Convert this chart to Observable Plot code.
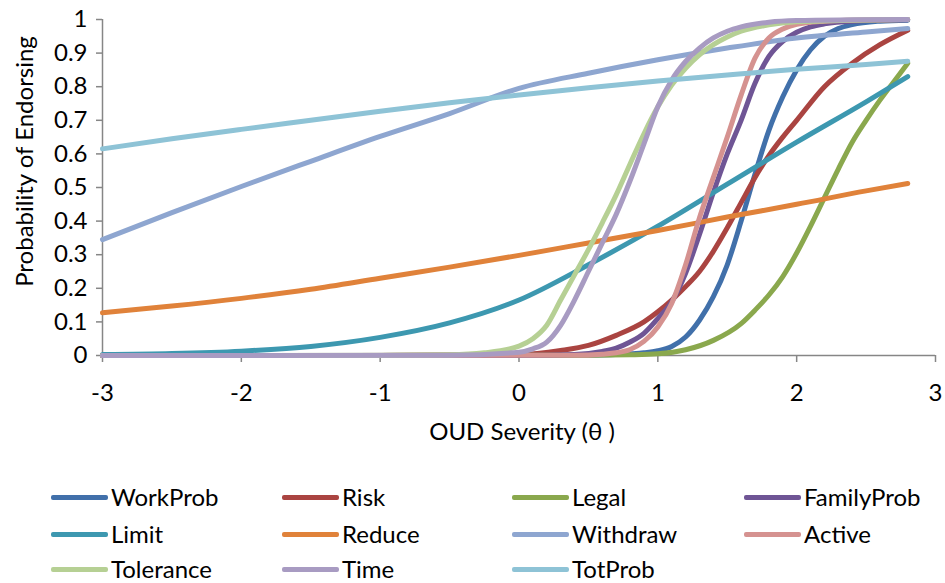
<!DOCTYPE html>
<html><head><meta charset="utf-8">
<script src="https://cdn.jsdelivr.net/npm/d3@7"></script>
<script src="https://cdn.jsdelivr.net/npm/@observablehq/plot@0.6"></script>
<style>
body{margin:0;background:#fff;font-family:Lato,sans-serif;}
#wrap{position:relative;width:945px;height:583px;overflow:hidden;background:#fff}
.item{position:absolute;display:flex;align-items:center;font-size:24px;color:#000;white-space:nowrap;line-height:1}
.sw{width:57px;height:5px;margin-right:3px;border-radius:2px}
</style></head><body><div id="wrap"></div>
<script>
const seriesNames = ["WorkProb","Risk","Legal","FamilyProb","Limit","Reduce","Withdraw","Active","Tolerance","Time","TotProb"];
const seriesColors = ["#4170AA","#AA4441","#8AA84D","#6F5595","#3D98B0","#E0823A","#8EA6D0","#D59290","#B6D094","#A89BC2","#8EC3D6"];

const thetaWorkProb = [-3,0,0.5,0.8,0.9,1.0,1.1,1.2,1.3,1.4,1.5,1.6,1.7,1.8,1.9,2.0,2.1,2.2,2.3,2.4,2.6,2.8];
const pWorkProb     = [0,0.0002,0.001,0.005,0.008,0.014,0.027,0.055,0.105,0.175,0.27,0.40,0.54,0.67,0.77,0.85,0.91,0.95,0.973,0.985,0.995,0.998];

const thetaRisk = [-3,-1,0,0.3,0.5,0.7,0.9,1.0,1.1,1.2,1.3,1.4,1.5,1.6,1.7,1.8,1.9,2.0,2.2,2.4,2.6,2.8];
const pRisk     = [0,0.0003,0.003,0.015,0.03,0.06,0.10,0.13,0.165,0.205,0.25,0.31,0.38,0.455,0.53,0.595,0.65,0.70,0.80,0.87,0.925,0.968];

const thetaLegal = [-3,0.5,0.8,1.0,1.2,1.4,1.6,1.7,1.8,1.9,2.0,2.1,2.2,2.3,2.4,2.5,2.6,2.7,2.8];
const pLegal     = [0,0.0005,0.002,0.005,0.017,0.045,0.095,0.135,0.18,0.235,0.305,0.385,0.47,0.555,0.635,0.70,0.76,0.815,0.87];

const thetaFamilyProb = [-3,0,0.4,0.6,0.7,0.8,0.9,1.0,1.1,1.2,1.3,1.4,1.5,1.6,1.7,1.8,1.9,2.0,2.1,2.2,2.4,2.8];
const pFamilyProb     = [0,0.0003,0.003,0.012,0.022,0.04,0.066,0.11,0.16,0.245,0.36,0.485,0.60,0.70,0.81,0.89,0.935,0.962,0.978,0.987,0.995,0.999];

const thetaLimit = [-3,-2.5,-2,-1.5,-1,-0.5,0,0.5,1,1.5,2,2.5,2.8];
const pLimit     = [0.003,0.006,0.013,0.027,0.054,0.097,0.165,0.27,0.385,0.51,0.635,0.755,0.83];

const thetaReduce = [-3,-2.5,-2,-1.5,-1,-0.5,0,0.5,1,1.5,2,2.5,2.8];
const pReduce     = [0.127,0.147,0.170,0.197,0.23,0.263,0.298,0.335,0.372,0.412,0.45,0.49,0.512];

const thetaWithdraw = [-3,-2.5,-2,-1.5,-1,-0.5,0,0.5,1,1.5,2,2.5,2.8];
const pWithdraw     = [0.345,0.425,0.503,0.578,0.652,0.72,0.795,0.84,0.88,0.915,0.945,0.963,0.973];

const thetaActive = [-3,0.4,0.6,0.7,0.8,0.9,1.0,1.1,1.2,1.3,1.4,1.5,1.6,1.7,1.8,1.9,2.0,2.2,2.4,2.8];
const pActive     = [0,0.0005,0.004,0.008,0.018,0.042,0.085,0.155,0.27,0.41,0.53,0.65,0.775,0.885,0.945,0.972,0.986,0.995,0.998,1.0];

const thetaTolerance = [-3,-1,-0.5,-0.25,0,0.1,0.2,0.3,0.4,0.5,0.6,0.7,0.8,0.9,1.0,1.1,1.2,1.3,1.4,1.5,1.6,1.8,2.0,2.4,2.8];
const pTolerance     = [0,0.0003,0.002,0.008,0.028,0.05,0.09,0.165,0.24,0.315,0.395,0.478,0.57,0.66,0.74,0.805,0.855,0.895,0.925,0.948,0.965,0.984,0.993,0.998,1.0];

const thetaTime = [-3,-0.5,0,0.1,0.2,0.3,0.4,0.5,0.6,0.7,0.8,0.9,1.0,1.1,1.2,1.3,1.4,1.5,1.6,1.8,2.0,2.4,2.8];
const pTime     = [0,0.0005,0.01,0.02,0.04,0.09,0.165,0.25,0.335,0.42,0.52,0.63,0.74,0.82,0.875,0.915,0.945,0.965,0.978,0.992,0.997,0.999,1.0];

const thetaTotProb = [-3,-2.5,-2,-1.5,-1,-0.5,0,0.5,1,1.5,2,2.5,2.8];
const pTotProb     = [0.615,0.645,0.673,0.70,0.727,0.752,0.775,0.797,0.817,0.835,0.852,0.866,0.876];

const xTicks = [-3,-2,-1,0,1,2,3];
const xTickLabels = ["-3","-2","-1","0","1","2","3"];
const yTicks = [0,0.1,0.2,0.3,0.4,0.5,0.6,0.7,0.8,0.9,1];
const yTickLabels = ["0","0.1","0.2","0.3","0.4","0.5","0.6","0.7","0.8","0.9","1"];
const xTitle = "OUD Severity (θ )";
const yTitle = "Probability of Endorsing";

const seriesData = {
  WorkProb:[thetaWorkProb,pWorkProb], Risk:[thetaRisk,pRisk], Legal:[thetaLegal,pLegal],
  FamilyProb:[thetaFamilyProb,pFamilyProb], Limit:[thetaLimit,pLimit], Reduce:[thetaReduce,pReduce],
  Withdraw:[thetaWithdraw,pWithdraw], Active:[thetaActive,pActive], Tolerance:[thetaTolerance,pTolerance],
  Time:[thetaTime,pTime], TotProb:[thetaTotProb,pTotProb]
};
const rows = seriesNames.flatMap(name => seriesData[name][0].map((t,i) => ({series:name, theta:t, p:seriesData[name][1][i]})));

const axisGray = "#868686";
const chart = Plot.plot({
  width:945, height:583,
  marginTop:19, marginLeft:102, marginRight:10, marginBottom:228,
  style:{fontFamily:"Lato, sans-serif", fontSize:"24px", color:"#000", background:"white", overflow:"visible"},
  x:{domain:[-3,3]},
  y:{domain:[0,1]},
  color:{domain:seriesNames, range:seriesColors},
  marks:[
    Plot.ruleX([-3], {stroke:axisGray, strokeWidth:1.5}),
    Plot.ruleY([0], {stroke:axisGray, strokeWidth:1.5}),
    Plot.axisY({ticks:yTicks, tickFormat:d => yTickLabels[yTicks.indexOf(d)], tickSize:6, tickPadding:9, label:null, stroke:axisGray, strokeWidth:1.5, fill:"#000", fontSize:24}),
    Plot.axisX({ticks:xTicks, tickFormat:d => xTickLabels[xTicks.indexOf(d)], tickSize:7, tickPadding:21, label:null, stroke:axisGray, strokeWidth:1.5, fill:"#000", fontSize:24}),
    Plot.line(rows, {x:"theta", y:"p", z:"series", stroke:"series", curve:"monotone-x", strokeWidth:5, strokeLinecap:"round", strokeLinejoin:"round"}),
    Plot.text([xTitle], {frameAnchor:"bottom", dx:3, dy:77, fontSize:24, textAnchor:"middle", lineAnchor:"middle", fill:"#000"}),
    Plot.text([yTitle], {frameAnchor:"left", rotate:-90, dx:-77, dy:-26, fontSize:24, textAnchor:"middle", lineAnchor:"middle", fill:"#000"})
  ]
});
const wrap = document.getElementById("wrap");
wrap.appendChild(chart);

const legendCols = [51, 282, 512, 744];
const legendRows = [497, 534, 569];
seriesNames.forEach((name, i) => {
  const it = document.createElement("div");
  it.className = "item";
  it.style.left = legendCols[i % 4] + "px";
  it.style.top = (legendRows[Math.floor(i / 4)] - 12) + "px";
  it.style.height = "24px";
  const sw = document.createElement("span");
  sw.className = "sw";
  sw.style.background = seriesColors[i];
  const tx = document.createElement("span");
  tx.textContent = name;
  it.appendChild(sw); it.appendChild(tx);
  wrap.appendChild(it);
});
</script></body></html>
